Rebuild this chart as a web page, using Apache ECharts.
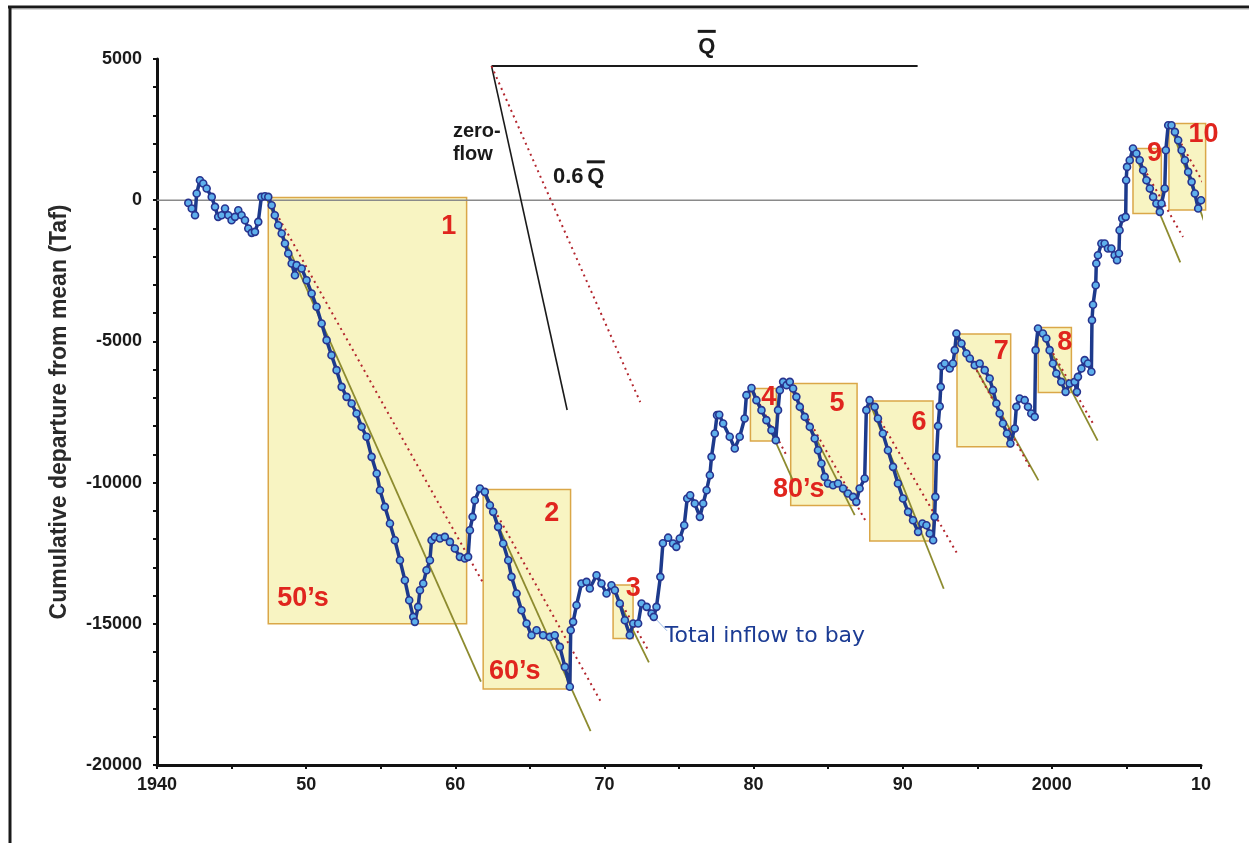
<!DOCTYPE html>
<html>
<head>
<meta charset="utf-8">
<script src="https://cdn.jsdelivr.net/npm/echarts@6/dist/echarts.min.js"></script>
<style>
  html, body { margin: 0; padding: 0; background: #ffffff; }
  #chart { width: 1249px; height: 843px; }
</style>
</head>
<body>
<div id="chart"></div>
<script>
// Tick labels on the year axis (one per decade)
const yearTickLabels = ['1940', '50', '60', '70', '80', '90', '2000', '10'];

// Cumulative departure from mean of total inflow to the bay, [year, Taf]
const inflow = [
  [1942.10, -95], [1942.33, -295], [1942.55, -530], [1942.66, 237], [1942.88, 708],
  [1943.10, 590], [1943.33, 413], [1943.67, 117], [1943.89, -236], [1944.10, -590],
  [1944.33, -531], [1944.56, -295], [1944.78, -531], [1945.00, -708], [1945.23, -590],
  [1945.45, -354], [1945.67, -531], [1945.90, -708], [1946.12, -1003], [1946.35, -1156],
  [1946.57, -1121], [1946.79, -767], [1947.00, 117], [1947.24, 141], [1947.46, 117],
  [1947.69, -177], [1947.90, -531], [1948.13, -885], [1948.36, -1180], [1948.58, -1534],
  [1948.80, -1887], [1949.03, -2241], [1949.25, -2655], [1949.36, -2300], [1949.70, -2418],
  [1950.03, -2832], [1950.37, -3303], [1950.70, -3775], [1951.04, -4365], [1951.37, -4956],
  [1951.70, -5487], [1952.04, -6018], [1952.38, -6609], [1952.71, -6963], [1953.05, -7199],
  [1953.38, -7553], [1953.72, -8025], [1954.05, -8379], [1954.39, -9088], [1954.73, -9678],
  [1954.95, -10269], [1955.28, -10859], [1955.62, -11449], [1955.95, -12040], [1956.29, -12748],
  [1956.62, -13456], [1956.91, -14164], [1957.18, -14754], [1957.29, -14931], [1957.51, -14400],
  [1957.63, -13810], [1957.85, -13574], [1958.07, -13102], [1958.30, -12748], [1958.41, -12040],
  [1958.63, -11921], [1958.97, -11980], [1959.30, -11921], [1959.64, -12099], [1959.97, -12335],
  [1960.31, -12630], [1960.64, -12689], [1960.86, -12630], [1960.98, -11685], [1961.16, -11213],
  [1961.31, -10623], [1961.65, -10210], [1961.98, -10328], [1962.32, -10800], [1962.54, -11036],
  [1962.87, -11567], [1963.21, -12158], [1963.55, -12748], [1963.77, -13338], [1964.11, -13928],
  [1964.44, -14519], [1964.78, -14991], [1965.11, -15405], [1965.45, -15228], [1965.89, -15405],
  [1966.34, -15464], [1966.67, -15405], [1967.01, -15818], [1967.35, -16526], [1967.68, -17231],
  [1967.74, -15228], [1967.90, -14931], [1968.13, -14341], [1968.46, -13574], [1968.80, -13515],
  [1969.02, -13751], [1969.47, -13279], [1969.80, -13574], [1970.14, -13928], [1970.47, -13633],
  [1970.70, -13810], [1971.03, -14282], [1971.37, -14873], [1971.70, -15405], [1971.93, -14991],
  [1972.26, -14991], [1972.49, -14282], [1972.83, -14400], [1973.16, -14636], [1973.31, -14754],
  [1973.49, -14400], [1973.75, -13338], [1973.92, -12150], [1974.27, -11950], [1974.60, -12158],
  [1974.82, -12276], [1975.05, -11980], [1975.35, -11508], [1975.55, -10564], [1975.75, -10446],
  [1976.06, -10741], [1976.40, -11213], [1976.62, -10741], [1976.85, -10269], [1977.07, -9737],
  [1977.18, -9088], [1977.40, -8262], [1977.55, -7612], [1977.70, -7600], [1977.96, -7907],
  [1978.40, -8379], [1978.74, -8793], [1979.07, -8379], [1979.40, -7730], [1979.52, -6904],
  [1979.86, -6650], [1980.19, -7081], [1980.53, -7435], [1980.86, -7789], [1981.20, -8143],
  [1981.49, -8497], [1981.64, -7435], [1981.76, -6727], [1981.98, -6432], [1982.21, -6550],
  [1982.43, -6432], [1982.65, -6668], [1982.87, -6963], [1983.10, -7317], [1983.43, -7671],
  [1983.77, -8025], [1984.10, -8438], [1984.32, -8852], [1984.55, -9324], [1984.77, -9796],
  [1984.99, -10033], [1985.33, -10092], [1985.66, -10033], [1986.00, -10210], [1986.33, -10387],
  [1986.67, -10505], [1986.89, -10682], [1987.11, -10210], [1987.45, -9855], [1987.56, -7435],
  [1987.78, -7081], [1988.12, -7317], [1988.34, -7730], [1988.67, -8261], [1989.01, -8852],
  [1989.35, -9442], [1989.68, -10033], [1990.02, -10564], [1990.36, -11036], [1990.69, -11331],
  [1991.03, -11744], [1991.32, -11449], [1991.59, -11508], [1991.81, -11803], [1992.04, -12040],
  [1992.14, -11213], [1992.19, -10505], [1992.26, -9088], [1992.37, -8000], [1992.48, -7300],
  [1992.55, -6609], [1992.60, -5880], [1992.82, -5782], [1993.15, -5959], [1993.37, -5782],
  [1993.49, -5310], [1993.60, -4720], [1993.94, -5074], [1994.27, -5428], [1994.50, -5605],
  [1994.83, -5841], [1995.16, -5782], [1995.50, -6018], [1995.83, -6314], [1996.05, -6727],
  [1996.28, -7199], [1996.50, -7553], [1996.72, -7907], [1996.99, -8261], [1997.22, -8615],
  [1997.51, -8084], [1997.62, -7317], [1997.84, -7022], [1998.18, -7081], [1998.40, -7317],
  [1998.62, -7553], [1998.85, -7671], [1998.91, -5310], [1999.07, -4543], [1999.40, -4720],
  [1999.63, -4897], [1999.85, -5310], [2000.07, -5782], [2000.30, -6136], [2000.63, -6432],
  [2000.92, -6786], [2001.19, -6491], [2001.53, -6432], [2001.68, -6786], [2001.75, -6255],
  [2001.98, -5959], [2002.20, -5664], [2002.42, -5782], [2002.65, -6077], [2002.69, -4248],
  [2002.76, -3700], [2002.94, -3011], [2002.98, -2241], [2003.09, -1950], [2003.32, -1534],
  [2003.54, -1534], [2003.76, -1711], [2003.99, -1711], [2004.21, -1950], [2004.37, -2123],
  [2004.50, -1888], [2004.54, -1062], [2004.72, -649], [2004.95, -590], [2004.98, 708],
  [2005.04, 1180], [2005.22, 1416], [2005.44, 1832], [2005.67, 1654], [2005.89, 1416],
  [2006.12, 1062], [2006.34, 708], [2006.57, 413], [2006.79, 117], [2007.01, -118],
  [2007.24, -413], [2007.35, -118], [2007.57, 413], [2007.64, 1770], [2007.80, 2655],
  [2008.02, 2655], [2008.25, 2419], [2008.47, 2124], [2008.70, 1770], [2008.92, 1416],
  [2009.14, 1003], [2009.37, 649], [2009.59, 236], [2009.81, -295], [2010.00, 0]
];

// Dry periods: [startYear, top, endYear, bottom]
const dryBoxes = [
  [1947.46, 100, 1960.76, -15000],
  [1961.87, -10240, 1967.73, -17310],
  [1970.58, -13630, 1971.92, -15520],
  [1979.79, -6670, 1981.53, -8530],
  [1982.49, -6490, 1986.94, -10810],
  [1987.79, -7110, 1992.03, -12070],
  [1993.64, -4740, 1997.24, -8730],
  [1999.09, -4510, 2001.31, -6810],
  [2005.44, 1830, 2007.34, -470],
  [2007.85, 2715, 2010.31, -350]
];
const dryBoxNames = ['1', '2', '3', '4', '5', '6', '7', '8', '9', '10'];
const dryBoxNamePos = [
  [1959.57, -920], [1966.47, -11080], [1971.93, -13735], [1981.02, -6990], [1985.60, -7200],
  [1991.09, -7860], [1996.61, -5370], [2000.86, -5045], [2006.89, 1650], [2010.17, 2340]
];
const decadeNames = ['50\u2019s', '60\u2019s', '80\u2019s'];
const decadeNamePos = [[1949.79, -14090], [1963.99, -16700], [1983.03, -10230]];

// Recession trends from each peak: [x0, y0, x1, y1]
const steepTrends = [
  [1947.31, 106, 1961.72, -17050],
  [1961.78, -10230, 1969.07, -18800],
  [1970.40, -13600, 1972.98, -16365],
  [1979.86, -6655, 1982.69, -9983],
  [1982.29, -6443, 1986.78, -11151],
  [1987.72, -7080, 1992.75, -13760],
  [1993.60, -4719, 1999.10, -9920],
  [1999.09, -4496, 2003.07, -8514],
  [2005.37, 1866, 2008.61, -2205],
  [2007.89, 2736, 2010.86, -1735]
];
const gentleTrends = [
  [1947.40, 106, 1961.90, -13585],
  [1961.85, -10230, 1969.73, -17730],
  [1970.40, -13600, 1973.00, -15990],
  [1979.86, -6655, 1982.20, -9027],
  [1982.29, -6443, 1987.57, -11409],
  [1987.72, -7080, 1993.71, -12567],
  [1993.60, -4719, 1998.51, -9441],
  [1999.09, -4496, 2002.82, -7965],
  [2005.37, 1866, 2008.79, -1299],
  [2007.89, 2736, 2011.24, -414]
];

// Slope key: mean flow, zero flow and 0.6 of mean flow
const meanFlowKey = [[1962.43, 4750], [1991.0, 4750]];
const zeroFlowKey = [[1962.43, 4750], [1967.5, -7430]];
const partFlowKey = [[1962.43, 4750], [1972.4, -7150]];
const zeroLine = [[1940, 0], [2004.9, 0]];
const inflowLeader = [[1973.3, -14750], [1974.2, -15250]];

// Free text placed in data units
const notes = ['zero-', 'flow', '0.6', 'Total inflow to bay'];
const notePos = [[1959.84, 2440], [1959.84, 1630], [1967.57, 810], [1974.05, -15430]];
const qBarPos = [[1976.86, 5430], [1969.42, 810]];

const FONT = '"Liberation Sans", Arial, sans-serif';
const chart = echarts.init(document.getElementById('chart'), null, { renderer: 'canvas' });

function segSeries(segs, style, z) {
  return segs.map(s => ({
    type: 'line', silent: true, clip: false, z: z, symbol: 'none', animation: false,
    data: [[s[0], s[1]], [s[2], s[3]]],
    lineStyle: style
  }));
}

const steepStyle = { color: '#8d8b2f', width: 1.8 };
const dotStyle = { color: '#b3262e', width: 2, type: [2, 4], cap: 'butt' };

const series = [
  {
    type: 'custom', name: 'dry periods', silent: true, clip: false, z: 1,
    data: dryBoxes,
    encode: { x: [0, 2], y: [1, 3] },
    renderItem: function (params, api) {
      const a = api.coord([api.value(0), api.value(1)]);
      const b = api.coord([api.value(2), api.value(3)]);
      return {
        type: 'rect',
        shape: { x: a[0], y: a[1], width: b[0] - a[0], height: b[1] - a[1] },
        style: { fill: '#f8f4c2', stroke: '#daa748', lineWidth: 1.5 }
      };
    }
  },
  {
    type: 'line', silent: true, z: 2, symbol: 'none', data: zeroLine,
    lineStyle: { color: '#8a8a8a', width: 1.6 }
  },
  ...segSeries(steepTrends, steepStyle, 3),
  ...segSeries(gentleTrends, dotStyle, 3),
  {
    type: 'line', silent: true, clip: false, z: 3, symbol: 'none', data: meanFlowKey,
    lineStyle: { color: '#1a1a1a', width: 2 }
  },
  {
    type: 'line', silent: true, clip: false, z: 3, symbol: 'none', data: zeroFlowKey,
    lineStyle: { color: '#1a1a1a', width: 1.6 }
  },
  {
    type: 'line', silent: true, clip: false, z: 3, symbol: 'none', data: partFlowKey,
    lineStyle: dotStyle
  },
  {
    type: 'line', silent: true, z: 3, symbol: 'none', data: inflowLeader,
    lineStyle: { color: '#9bbbe6', width: 1 }
  },
  {
    type: 'line', name: 'Total inflow to bay', z: 5, clip: false,
    data: inflow,
    showSymbol: true, symbol: 'circle', symbolSize: 7,
    lineStyle: { color: '#1d3a8c', width: 3.5 },
    itemStyle: { color: '#5eb0ec', borderColor: '#28348f', borderWidth: 1.6 }
  },
  {
    type: 'custom', name: 'box names', silent: true, clip: false, z: 6,
    data: dryBoxNamePos,
    renderItem: function (params, api) {
      const p = api.coord([api.value(0), api.value(1)]);
      return {
        type: 'text', x: p[0], y: p[1],
        style: {
          text: dryBoxNames[params.dataIndex], fill: '#e0251e',
          font: 'bold 27px ' + FONT, align: 'center', verticalAlign: 'middle',
          textAlign: 'center', textVerticalAlign: 'middle'
        }
      };
    }
  },
  {
    type: 'custom', name: 'decade names', silent: true, clip: false, z: 6,
    data: decadeNamePos,
    renderItem: function (params, api) {
      const p = api.coord([api.value(0), api.value(1)]);
      return {
        type: 'text', x: p[0], y: p[1],
        style: {
          text: decadeNames[params.dataIndex], fill: '#e0251e',
          font: 'bold 27px ' + FONT, align: 'center', verticalAlign: 'middle',
          textAlign: 'center', textVerticalAlign: 'middle'
        }
      };
    }
  },
  {
    type: 'custom', name: 'notes', silent: true, clip: false, z: 6,
    data: notePos,
    renderItem: function (params, api) {
      const p = api.coord([api.value(0), api.value(1)]);
      const i = params.dataIndex;
      const isKey = i < 2;
      const isInflow = i === 3;
      return {
        type: 'text', x: p[0], y: p[1],
        style: {
          text: notes[i],
          fill: isInflow ? '#1c3c94' : '#1a1a1a',
          font: isInflow ? '22px "DejaVu Sans", sans-serif'
            : (isKey ? 'bold 20px ' + FONT : 'bold 22px ' + FONT),
          align: isKey || isInflow ? 'left' : 'center', verticalAlign: 'middle',
          textAlign: isKey || isInflow ? 'left' : 'center', textVerticalAlign: 'middle'
        }
      };
    }
  },
  {
    type: 'custom', name: 'mean flow symbol', silent: true, clip: false, z: 6,
    data: qBarPos,
    renderItem: function (params, api) {
      const p = api.coord([api.value(0), api.value(1)]);
      return {
        type: 'group', x: p[0], y: p[1],
        children: [
          {
            type: 'text', x: 0, y: 0,
            style: {
              text: 'Q', fill: '#1a1a1a', font: 'bold 22px ' + FONT,
              align: 'center', verticalAlign: 'middle',
              textAlign: 'center', textVerticalAlign: 'middle'
            }
          },
          {
            type: 'line', shape: { x1: -9, y1: -15.5, x2: 9, y2: -15.5 },
            style: { stroke: '#1a1a1a', lineWidth: 3 }
          }
        ]
      };
    }
  }
];

const tickFont = { color: '#1a1a1a', fontSize: 18, fontWeight: 'bold', fontFamily: FONT };

const option = {
  animation: false,
  backgroundColor: '#ffffff',
  grid: { left: 157, right: 48, top: 59, bottom: 78, containLabel: false },
  xAxis: {
    type: 'value', min: 1940, max: 2010, interval: 10,
    axisLine: { show: true, onZero: false, lineStyle: { color: '#111111', width: 3 } },
    axisTick: { show: true, length: 4, lineStyle: { color: '#111111', width: 2 } },
    minorTick: { show: true, splitNumber: 2, length: 4, lineStyle: { color: '#111111', width: 2 } },
    splitLine: { show: false },
    axisLabel: Object.assign({
      margin: 11,
      formatter: v => yearTickLabels[Math.round((v - 1940) / 10)]
    }, tickFont)
  },
  yAxis: {
    type: 'value', min: -20000, max: 5000, interval: 5000,
    name: 'Cumulative departure from mean (Taf)',
    nameLocation: 'middle', nameGap: 86, nameRotate: 90,
    nameTextStyle: { color: '#2a2a2a', fontSize: 23, fontWeight: 'bold', fontFamily: FONT },
    axisLine: { show: true, onZero: false, lineStyle: { color: '#111111', width: 3 } },
    axisTick: { show: true, length: 4, lineStyle: { color: '#111111', width: 2 } },
    minorTick: { show: true, splitNumber: 5, length: 4, lineStyle: { color: '#111111', width: 2 } },
    splitLine: { show: false },
    axisLabel: Object.assign({
      margin: 15,
      formatter: v => String(v)
    }, tickFont)
  },
  graphic: [
    { type: 'line', shape: { x1: 8, y1: 7, x2: 1249, y2: 7 }, style: { stroke: '#1a1a1a', lineWidth: 3 } },
    { type: 'line', shape: { x1: 10, y1: 9, x2: 1249, y2: 9 }, style: { stroke: '#b0b0b0', lineWidth: 1 } },
    { type: 'line', shape: { x1: 10, y1: 6, x2: 10, y2: 843 }, style: { stroke: '#1a1a1a', lineWidth: 3 } }
  ],
  series: series
};

chart.setOption(option);
</script>
</body>
</html>
